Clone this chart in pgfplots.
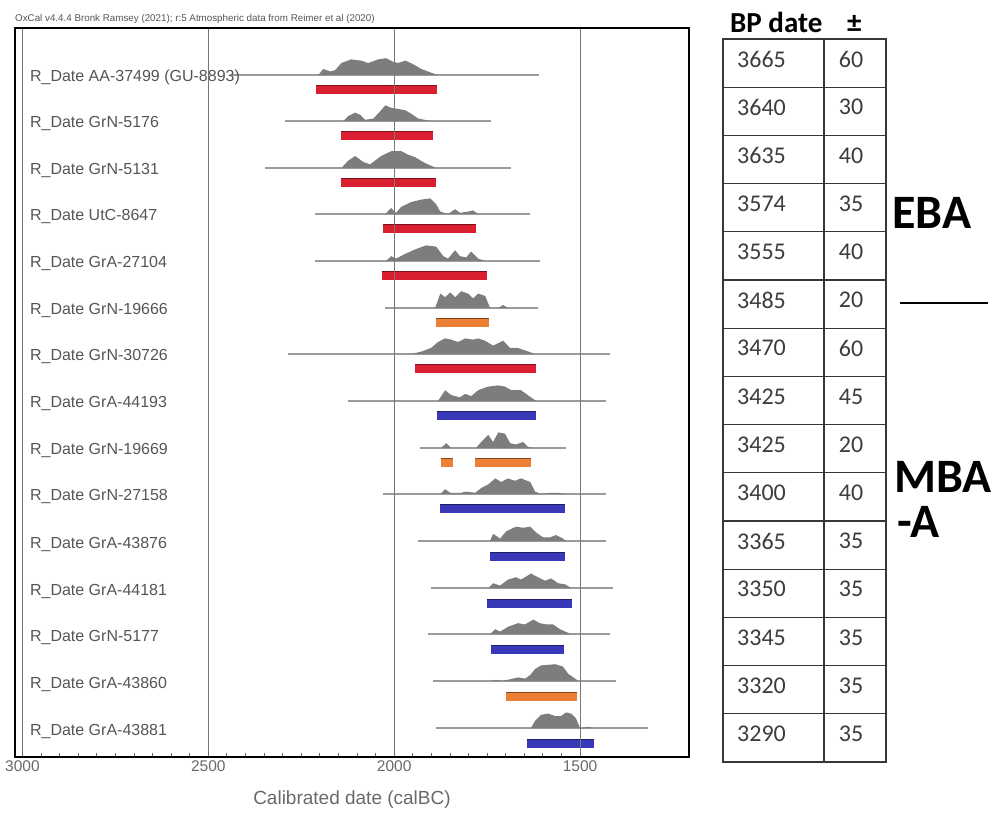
\documentclass[border=0pt]{standalone}
\usepackage{pgfplots}
\pgfplotsset{compat=1.18}
\usepackage{fontspec}
\setmainfont{Liberation Sans}
\newfontfamily\tabfont{Carlito}

\definecolor{ebared}{RGB}{218,32,48}
\definecolor{mbaorange}{RGB}{236,128,52}
\definecolor{mbablue}{RGB}{56,56,184}
\definecolor{distgray}{RGB}{125,125,125}
\definecolor{linegray}{RGB}{155,155,155}
\definecolor{gridgray}{RGB}{120,120,120}
\definecolor{labelgray}{RGB}{85,85,85}
\definecolor{tickgray}{RGB}{105,105,105}
\definecolor{numgray}{RGB}{60,60,60}
\definecolor{tabline}{RGB}{55,55,55}

% one R_Date row: baseline y, label, extent of the date line
\newcommand\DateRow[4]{%
  \addplot[linegray, line width=1.1pt] coordinates {(#3,#1) (#4,#1)};
  \node[anchor=base west, inner sep=0pt, font=\fontsize{16}{19}\selectfont, text=labelgray]
    at (axis cs:2980,#1-7) {#2};}
% a highlighted range bar: colour, centre y, from, to
\newcommand\RangeBar[4]{%
  \addplot[#1, line width=9pt] coordinates {(#3,#2) (#4,#2)};
  \addplot[#1!55!black, line width=0.6pt] coordinates {(#3,#2+4.2) (#4,#2+4.2)};}
% calibrated distribution: baseline y, then the (year, height) table
\newcommand\Dist[2]{%
  \addplot[fill=distgray, draw=none] table[row sep=\\, y expr=1.2*\thisrow{h}+#1] {#2};}

\begin{document}
\begin{tikzpicture}[x=1pt,y=1pt]
\path[use as bounding box] (-15,-55) rectangle (984,757);
\begin{axis}[
  at={(0,0)}, anchor=south west,
  scale only axis, width=674pt, height=729pt,
  x dir=reverse, xmin=1207, xmax=3020, ymin=0, ymax=729,
  xtick={1500,2000,2500,3000}, minor x tick num=9,
  ytick=\empty, xtick pos=left, tick align=inside,
  major tick length=5pt, minor tick length=4pt,
  tick style={tickgray, line width=0.8pt},
  xmajorgrids, major grid style={gridgray, line width=1.1pt},
  axis line style={black, line width=1.8pt},
  axis on top, clip=false,
  /pgf/number format/1000 sep={}, /pgf/number format/assume math mode=true,
  xticklabel style={font=\fontsize{15.5}{15.5}\selectfont, text=tickgray},
  xlabel={Calibrated date (calBC)},
  xlabel style={font=\fontsize{19}{19}\selectfont, text=tickgray,
    at={(axis description cs:0.5,-0.059)}, anchor=center},
]
\node[anchor=base west, inner sep=0pt, font=\fontsize{9.8}{10}\selectfont, text=labelgray, yshift=6pt]
  at (rel axis cs:0,1) {OxCal v4.4.4 Bronk Ramsey (2021); r:5 Atmospheric data from Reimer et al (2020)};

% date lines and labels
\DateRow{682}{R\_Date AA-37499 (GU-8893)}{2440}{1610}
\DateRow{636}{R\_Date GrN-5176}{2293}{1739}
\DateRow{589}{R\_Date GrN-5131}{2347}{1685}
\DateRow{543}{R\_Date UtC-8647}{2212}{1634}
\DateRow{496}{R\_Date GrA-27104}{2212}{1608}
\DateRow{449}{R\_Date GrN-19666}{2024}{1613}
\DateRow{403}{R\_Date GrN-30726}{2285}{1419}
\DateRow{356}{R\_Date GrA-44193}{2124}{1430}
\DateRow{309}{R\_Date GrN-19669}{1930}{1538}
\DateRow{263}{R\_Date GrN-27158}{2030}{1430}
\DateRow{216}{R\_Date GrA-43876}{1935}{1430}
\DateRow{169}{R\_Date GrA-44181}{1901}{1411}
\DateRow{123}{R\_Date GrN-5177}{1909}{1419}
\DateRow{76}{R\_Date GrA-43860}{1895}{1403}
\DateRow{29}{R\_Date GrA-43881}{1887}{1317}

% calibrated probability distributions
\Dist{682}{x h\\ 2204 0\\ 2191 5\\ 2172 3\\ 2159 4\\ 2142 10\\ 2116 13\\ 2089 12\\ 2070 10\\ 2043 13\\ 2022 14\\ 2003 11\\ 1989 10\\ 1970 12\\ 1949 9\\ 1927 5\\ 1901 2\\ 1882 0\\}
\Dist{636}{x h\\ 2137 0\\ 2124 4\\ 2105 7\\ 2091 5\\ 2078 1\\ 2056 2\\ 2038 8\\ 2024 13\\ 2008 11\\ 1989 10\\ 1970 9\\ 1954 6\\ 1935 2\\ 1901 0\\}
\Dist{589}{x h\\ 2142 0\\ 2124 6\\ 2105 10\\ 2083 5\\ 2065 3\\ 2035 10\\ 2008 14\\ 1981 14\\ 1962 11\\ 1944 9\\ 1922 5\\ 1909 3\\ 1887 0\\}
\Dist{543}{x h\\ 2024 0\\ 2008 5\\ 1995 1\\ 1981 6\\ 1954 10\\ 1927 12\\ 1903 13\\ 1887 8\\ 1876 2\\ 1855 0\\ 1836 4\\ 1823 1\\ 1801 2\\ 1788 3\\ 1774 0\\}
\Dist{496}{x h\\ 2022 0\\ 2008 4\\ 1995 2\\ 1970 6\\ 1941 10\\ 1914 13\\ 1887 12\\ 1868 4\\ 1855 2\\ 1836 9\\ 1823 4\\ 1806 3\\ 1793 8\\ 1774 2\\ 1755 0\\}
\Dist{449}{x h\\ 1890 0\\ 1876 12\\ 1863 9\\ 1849 13\\ 1836 9\\ 1820 14\\ 1801 12\\ 1788 8\\ 1774 12\\ 1755 10\\ 1742 0\\ 1720 0\\ 1707 2.5\\ 1694 0\\}
\Dist{403}{x h\\ 1954 0\\ 1927 2\\ 1901 5\\ 1882 10\\ 1863 13\\ 1847 12\\ 1828 10\\ 1809 13\\ 1788 12\\ 1774 13\\ 1755 11\\ 1734 7\\ 1707 11\\ 1688 5\\ 1667 5\\ 1648 3\\ 1621 0\\}
\Dist{356}{x h\\ 1882 0\\ 1863 9\\ 1847 5\\ 1823 3\\ 1809 6\\ 1793 4\\ 1774 9\\ 1747 12\\ 1720 13\\ 1702 12\\ 1685 9\\ 1659 9\\ 1632 3\\ 1618 0\\}
\Dist{309}{x h\\ 1874 0\\ 1860 4\\ 1847 0\\ 1780 0\\ 1766 5\\ 1747 11\\ 1734 5\\ 1720 13\\ 1702 12\\ 1688 4\\ 1672 3\\ 1653 5\\ 1640 1\\ 1626 0\\}
\Dist{263}{x h\\ 1876 0\\ 1863 4\\ 1849 1\\ 1820 1\\ 1806 2\\ 1782 1\\ 1766 5\\ 1747 8\\ 1728 13\\ 1712 10\\ 1694 13\\ 1675 11\\ 1659 13\\ 1634 10\\ 1621 2\\ 1605 0\\ 1581 1\\ 1559 1\\ 1540 0\\}
\Dist{216}{x h\\ 1742 0\\ 1734 6\\ 1715 2\\ 1699 8\\ 1672 12\\ 1653 11\\ 1634 12\\ 1618 7\\ 1599 3\\ 1581 3\\ 1565 5\\ 1546 2\\ 1538 0\\}
\Dist{169}{x h\\ 1747 0\\ 1734 4\\ 1715 2\\ 1694 7\\ 1672 9\\ 1659 7\\ 1632 12\\ 1613 9\\ 1594 6\\ 1578 8\\ 1559 4\\ 1540 3\\ 1524 0\\}
\Dist{123}{x h\\ 1742 0\\ 1728 4\\ 1715 2\\ 1694 6\\ 1667 9\\ 1648 8\\ 1626 12\\ 1608 9\\ 1591 8\\ 1573 8\\ 1554 4\\ 1540 2\\ 1524 0\\}
\Dist{76}{x h\\ 1739 0\\ 1728 1\\ 1712 0\\ 1694 1\\ 1667 3\\ 1648 2\\ 1634 5\\ 1621 10\\ 1605 13\\ 1567 14\\ 1546 12\\ 1532 6\\ 1513 2\\ 1505 0\\}
\Dist{29}{x h\\ 1632 0\\ 1621 6\\ 1605 11\\ 1586 12\\ 1567 10\\ 1551 10\\ 1538 13\\ 1524 12\\ 1511 8\\ 1500 0\\ 1478 1\\ 1465 0\\}

% highlighted ranges
\RangeBar{ebared}{667}{2210}{1884}
\RangeBar{ebared}{621}{2142}{1895}
\RangeBar{ebared}{574}{2142}{1887}
\RangeBar{ebared}{528}{2030}{1780}
\RangeBar{ebared}{481}{2032}{1750}
\RangeBar{mbaorange}{434}{1887}{1745}
\RangeBar{ebared}{388}{1944}{1618}
\RangeBar{mbablue}{341}{1884}{1618}
\RangeBar{mbaorange}{294}{1874}{1841}
\RangeBar{mbaorange}{294}{1782}{1632}
\RangeBar{mbablue}{248}{1876}{1540}
\RangeBar{mbablue}{201}{1742}{1540}
\RangeBar{mbablue}{154}{1750}{1522}
\RangeBar{mbablue}{108}{1739}{1543}
\RangeBar{mbaorange}{61}{1699}{1508}
\RangeBar{mbablue}{14}{1642}{1462}
\end{axis}

% radiocarbon ages beside the plot
\begin{scope}[tabline, line width=1.3pt]
  \draw (708,718) rectangle (871,-5);
  \draw (809,718) -- (809,-5);
  \foreach \k in {1,...,14} \draw (708,{718-48.2*\k}) -- (871,{718-48.2*\k});
\end{scope}
\foreach \v/\e [count=\k from 0] in {3665/60,3640/30,3635/40,3574/35,3555/40,3485/20,3470/60,3425/45,3425/20,3400/40,3365/35,3350/35,3345/35,3320/35,3290/35} {
  \node[anchor=west, inner sep=0pt, font=\tabfont\fontsize{24}{24}\selectfont, text=numgray] at (722,{698-48.2*\k}) {\v};
  \node[anchor=center, inner sep=0pt, font=\tabfont\fontsize{24}{24}\selectfont, text=numgray] at (836,{698-48.2*\k}) {\e};
}
\node[anchor=base west, inner sep=0pt, font=\tabfont\bfseries\fontsize{29}{29}\selectfont] at (715,724) {BP date};
\node[anchor=base west, inner sep=0pt, font=\tabfont\bfseries\fontsize{29}{29}\selectfont] at (832,724) {±};

% period labels
\node[anchor=base west, inner sep=0pt, font=\tabfont\bfseries\fontsize{48}{48}\selectfont] at (877,528) {EBA};
\draw[black, line width=2.5pt] (885,454) -- (973,454);
\node[anchor=base west, inner sep=0pt, font=\tabfont\bfseries\fontsize{48}{48}\selectfont] at (879,264) {MBA};
\node[anchor=base west, inner sep=0pt, font=\tabfont\bfseries\fontsize{48}{48}\selectfont] at (882,220) {-A};
\end{tikzpicture}
\end{document}
